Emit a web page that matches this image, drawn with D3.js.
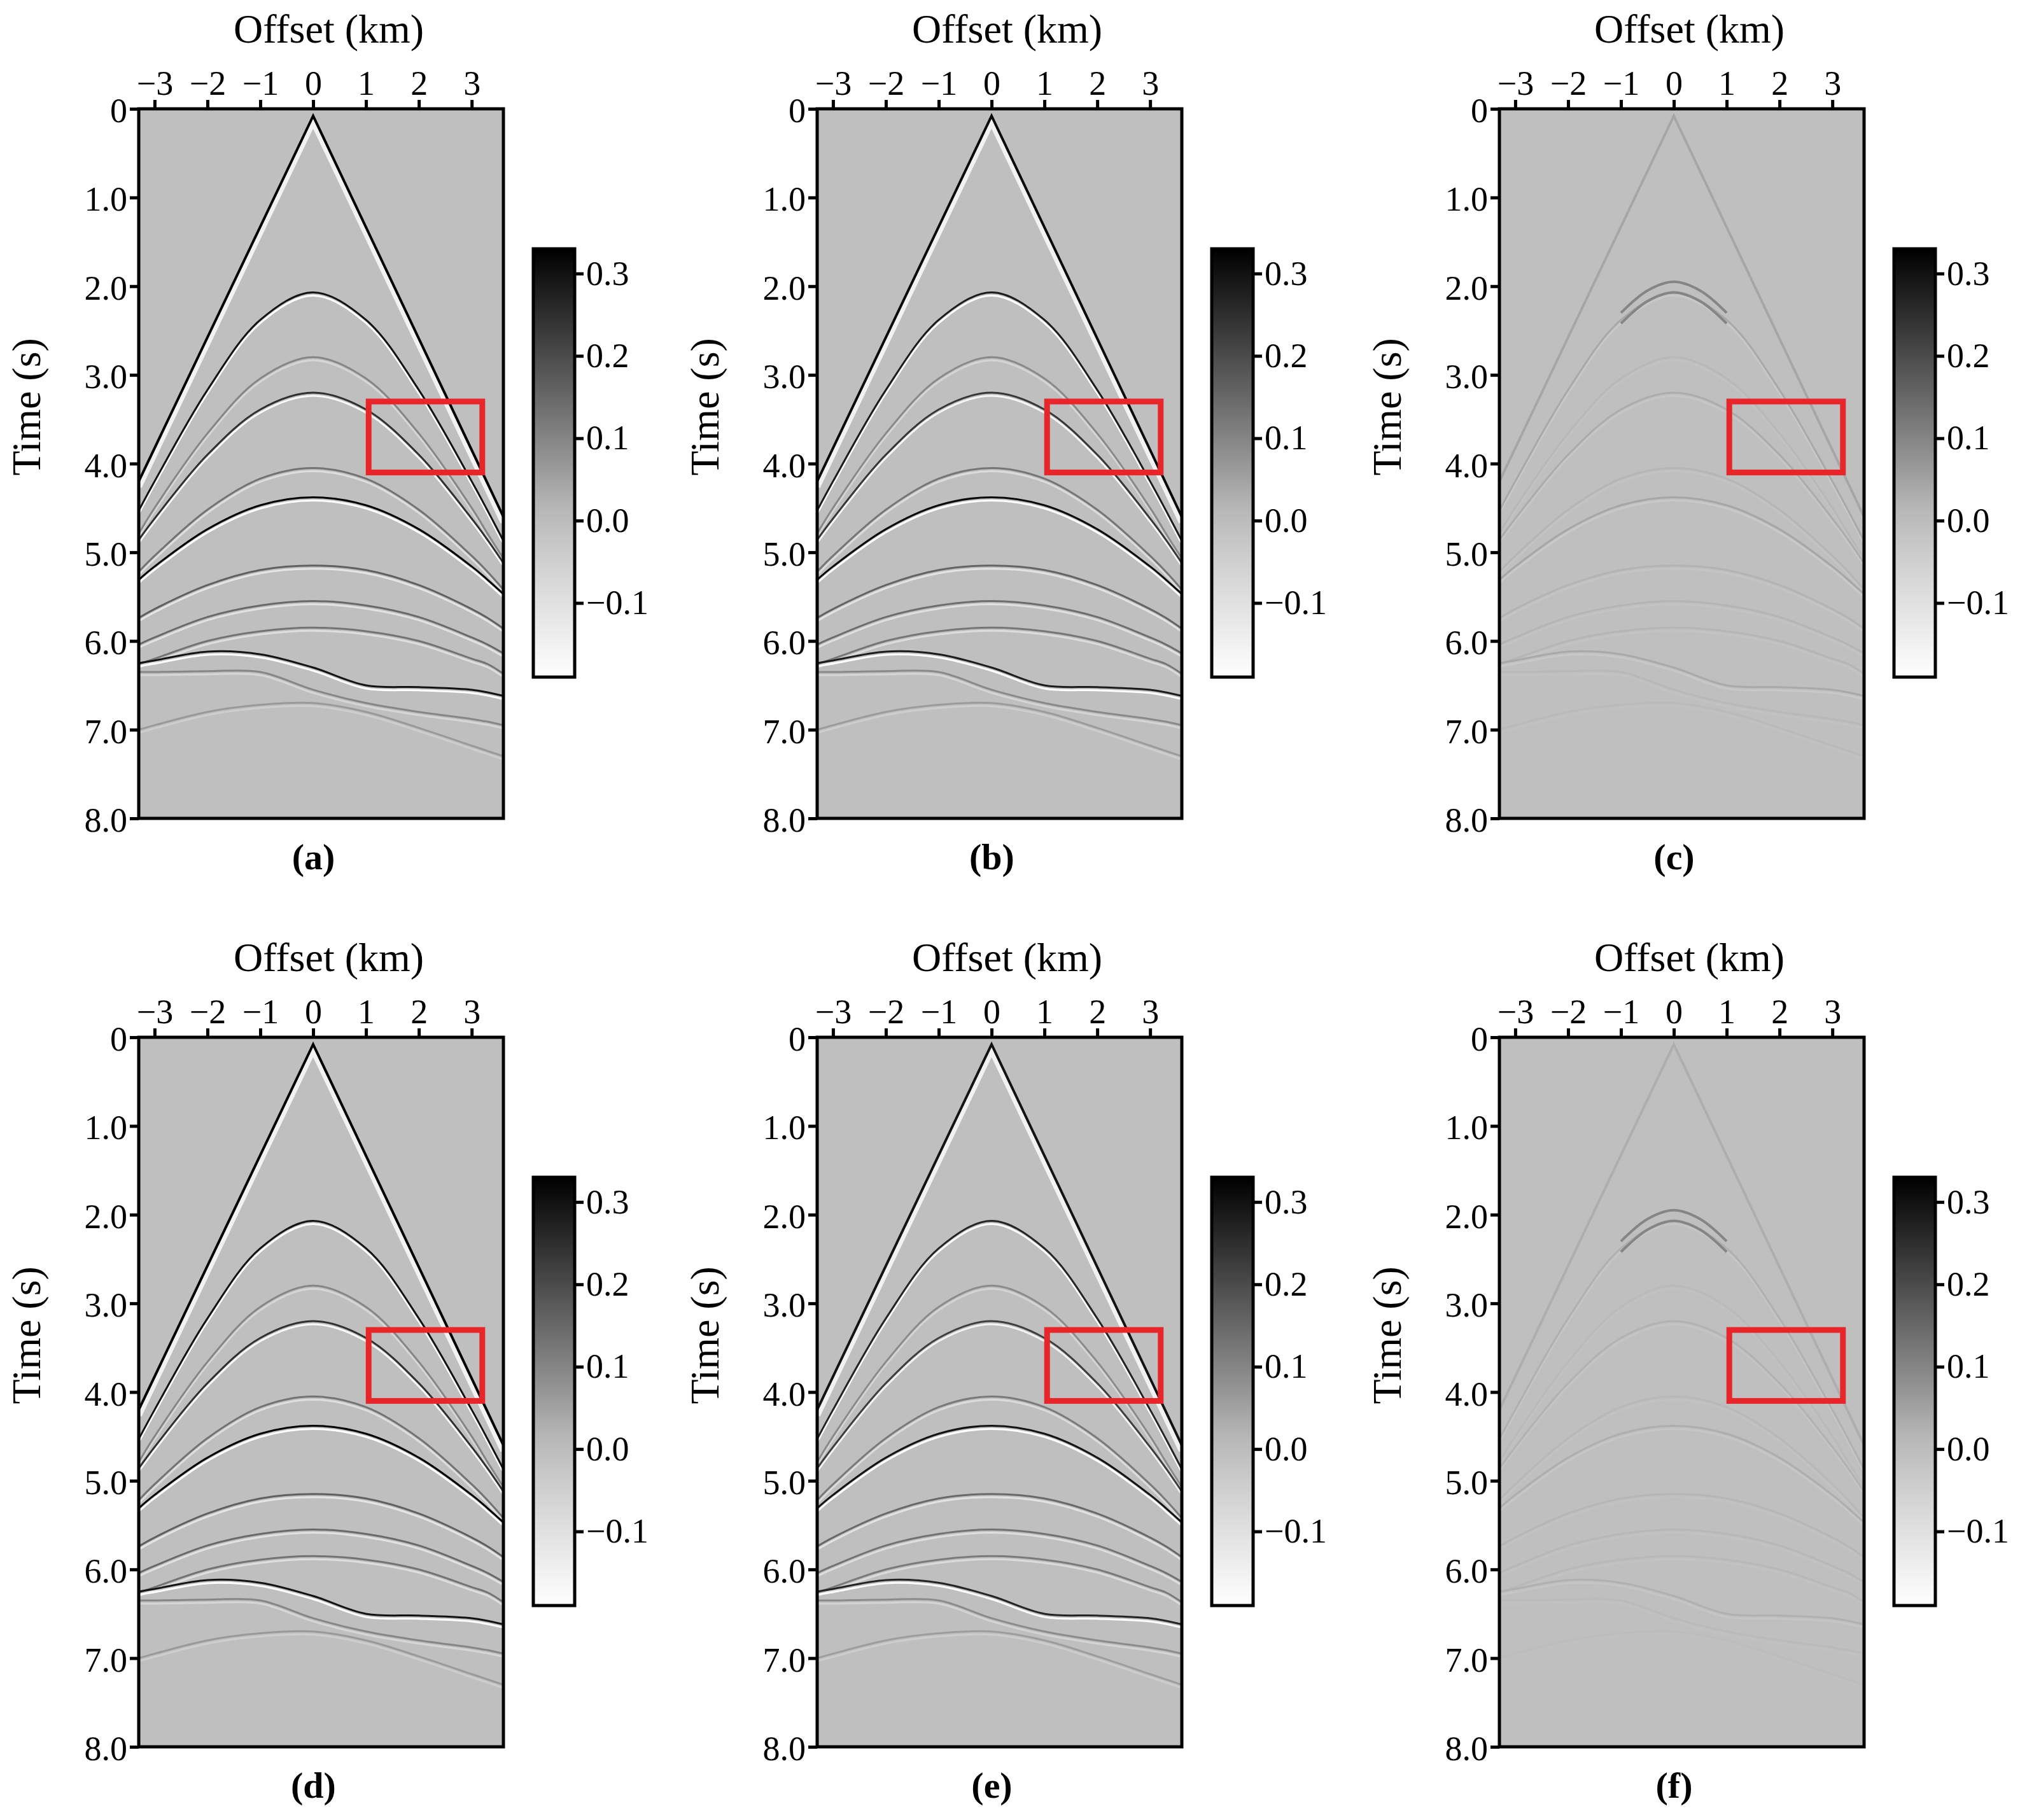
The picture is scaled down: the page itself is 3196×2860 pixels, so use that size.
<!DOCTYPE html>
<html><head><meta charset="utf-8">
<script src="https://cdn.jsdelivr.net/npm/d3@7"></script>
<style>body{margin:0;background:#fff}</style>
</head><body>
<div id="chart"></div>
<script>
var offsets = [-3.3, -3, -2, -1, 0, 1, 2, 3, 3.3, 3.6];
// direct arrival (apex + two edges)
var directX = [-3.3, 0, 3.6];
var directT = [4.2, 0.08, 4.6];
// reflection events: times (s) at each offset, and relative strength
var events = [
  {t: [4.53, 4.20, 3.17, 2.38, 2.07, 2.38, 3.17, 4.20, 4.53, 4.87], a: 0.9},
  {t: [4.79, 4.50, 3.66, 3.04, 2.80, 3.04, 3.66, 4.50, 4.79, 5.07], a: 0.3},
  {t: [4.86, 4.62, 3.90, 3.39, 3.20, 3.39, 3.90, 4.62, 4.86, 5.12], a: 0.75},
  {t: [5.22, 5.04, 4.52, 4.17, 4.05, 4.17, 4.52, 5.04, 5.22, 5.42], a: 0.4},
  {t: [5.31, 5.16, 4.74, 4.47, 4.38, 4.47, 4.74, 5.16, 5.31, 5.47], a: 1.0},
  {t: [5.74, 5.64, 5.37, 5.20, 5.15, 5.20, 5.37, 5.64, 5.74, 5.86], a: 0.5},
  {t: [6.04, 5.96, 5.73, 5.60, 5.55, 5.60, 5.73, 5.96, 6.04, 6.14], a: 0.45},
  {t: [6.26, 6.20, 6.00, 5.89, 5.85, 5.89, 6.00, 6.20, 6.26, 6.37], a: 0.4},
  {t: [6.25, 6.22, 6.12, 6.15, 6.30, 6.50, 6.52, 6.55, 6.58, 6.62], a: 0.9},
  {t: [6.35, 6.35, 6.34, 6.35, 6.55, 6.70, 6.80, 6.88, 6.91, 6.95], a: 0.3},
  {t: [7.00, 6.95, 6.80, 6.72, 6.70, 6.80, 6.98, 7.18, 7.24, 7.30], a: 0.2}
];
// residual apex seen in (c) and (f)
var apexX = [-1, -0.5, 0, 0.5, 1];
var apexT = [2.3, 2.05, 1.95, 2.05, 2.3];

var panels = ["(a)", "(b)", "(c)", "(d)", "(e)", "(f)"];
var panelGain = [1, 0.95, 0.13, 1, 0.9, 0.09];
var xTicks = [-3, -2, -1, 0, 1, 2, 3];
var yTicks = [0, 1, 2, 3, 4, 5, 6, 7, 8];
var cbTicks = [-0.1, 0.0, 0.1, 0.2, 0.3];
var cbDomain = [-0.19, 0.33];
var boxX = [1.05, 3.2], boxT = [3.3, 4.1];

var W = 3196, H = 2860;
var pw = 573, ph = 1115;
var lefts = [218, 1284, 2356], tops = [171, 1630];
var font = "Liberation Serif, serif";

var svg = d3.select("#chart").append("svg").attr("width", W).attr("height", H);
var color = d3.scaleLinear().domain([-0.19, 0, 0.33]).range(["#ffffff", "#bfbfbf", "#000000"]);

var defs = svg.append("defs");
var grad = defs.append("linearGradient").attr("id", "cb").attr("x1", 0).attr("y1", 1).attr("x2", 0).attr("y2", 0);
d3.range(0, 1.01, 0.1).forEach(function(f) {
  grad.append("stop").attr("offset", f).attr("stop-color", color(cbDomain[0] + f * (cbDomain[1] - cbDomain[0])));
});

var x = d3.scaleLinear().domain([-3.3, 3.6]).range([0, pw]);
var y = d3.scaleLinear().domain([0, 8]).range([0, ph]);
var line = d3.line().x(function(d) { return x(d[0]); }).y(function(d) { return y(d[1]); }).curve(d3.curveCatmullRom);

panels.forEach(function(name, i) {
  var g = svg.append("g").attr("transform", "translate(" + lefts[i % 3] + "," + tops[Math.floor(i / 3)] + ")");
  var gain = panelGain[i];

  defs.append("clipPath").attr("id", "clip" + i).append("rect").attr("width", pw).attr("height", ph);
  // region below the direct arrival
  var under = directX.map(function(d, j) { return [x(d), y(directT[j])]; });
  under.push([pw, ph], [0, ph]);
  defs.append("clipPath").attr("id", "under" + i).append("polygon").attr("points", under.join(" "));

  var img = g.append("g").attr("clip-path", "url(#clip" + i + ")");
  img.append("rect").attr("width", pw).attr("height", ph).attr("fill", color(0));
  var refl = img.append("g").attr("clip-path", "url(#under" + i + ")");

  events.forEach(function(ev) {
    var pts = offsets.map(function(o, j) { return [o, ev.t[j]]; });
    var amp = ev.a * gain;
    refl.append("path").attr("d", line(pts)).attr("fill", "none")
      .attr("stroke", color(-0.19 * Math.min(1, amp * 1.2))).attr("stroke-width", 3)
      .attr("transform", "translate(0,5)");
    refl.append("path").attr("d", line(pts)).attr("fill", "none")
      .attr("stroke", color(0.33 * amp)).attr("stroke-width", 3);
  });

  if (gain < 0.5) {
    var ap = apexX.map(function(o, j) { return [o, apexT[j]]; });
    [0, 0.12].forEach(function(dt) {
      img.append("path").attr("d", line(ap.map(function(p) { return [p[0], p[1] + dt]; })))
        .attr("fill", "none").attr("stroke", color(0.1)).attr("stroke-width", 4);
    });
  }

  var dpts = directX.map(function(o, j) { return [o, directT[j]]; });
  var dline = d3.line().x(function(d) { return x(d[0]); }).y(function(d) { return y(d[1]); });
  if (gain > 0.5) {
    img.append("path").attr("d", dline(dpts.map(function(p) { return [p[0], p[1] + 0.06]; })))
      .attr("fill", "none").attr("stroke", "#f2f2f2").attr("stroke-width", 10);
  }
  img.append("path").attr("d", dline(dpts)).attr("fill", "none")
    .attr("stroke", color(0.33 * Math.max(gain, 0.04))).attr("stroke-width", 4);

  // red box
  g.append("rect").attr("x", x(boxX[0])).attr("y", y(boxT[0]))
    .attr("width", x(boxX[1]) - x(boxX[0])).attr("height", y(boxT[1]) - y(boxT[0]))
    .attr("fill", "none").attr("stroke", "#e8262a").attr("stroke-width", 9);

  g.append("rect").attr("width", pw).attr("height", ph).attr("fill", "none").attr("stroke", "#000").attr("stroke-width", 5);

  var xa = g.append("g").call(d3.axisTop(x).tickValues(xTicks).tickSize(14).tickPadding(8)
    .tickFormat(function(d) { return d < 0 ? "\u2212" + (-d) : d; }));
  var ya = g.append("g").call(d3.axisLeft(y).tickValues(yTicks).tickSize(14).tickPadding(4)
    .tickFormat(function(d) { return d === 0 ? "0" : d.toFixed(1); }));
  [xa, ya].forEach(function(a) {
    a.select(".domain").remove();
    a.selectAll("line").attr("stroke-width", 5);
    a.selectAll("text").attr("font-family", font).attr("font-size", 54).attr("fill", "#000");
  });
  ya.selectAll("text").attr("dy", "0.38em");

  g.append("text").attr("x", pw / 2 + 12).attr("y", -104).attr("text-anchor", "middle")
    .attr("font-family", font).attr("font-size", 64).text("Offset (km)");
  g.append("text").attr("transform", "translate(-155," + (ph * 0.42) + ") rotate(-90)")
    .attr("text-anchor", "middle").attr("font-family", font).attr("font-size", 64).text("Time (s)");
  g.append("text").attr("x", pw / 2 - 12).attr("y", ph + 80).attr("text-anchor", "middle")
    .attr("font-family", font).attr("font-weight", "bold").attr("font-size", 58).text(name);

  // colorbar
  var cb = g.append("g").attr("transform", "translate(620,220)");
  var cy = d3.scaleLinear().domain(cbDomain).range([673, 0]);
  cb.append("rect").attr("width", 65).attr("height", 673).attr("fill", "url(#cb)")
    .attr("stroke", "#000").attr("stroke-width", 5);
  var ca = cb.append("g").attr("transform", "translate(65,0)")
    .call(d3.axisRight(cy).tickValues(cbTicks).tickSize(14).tickPadding(4)
      .tickFormat(function(d) { return d < 0 ? "\u2212" + (-d).toFixed(1) : d.toFixed(1); }));
  ca.select(".domain").remove();
  ca.selectAll("line").attr("stroke-width", 5);
  ca.selectAll("text").attr("font-family", font).attr("font-size", 54).attr("fill", "#000");
});
</script>
</body></html>
